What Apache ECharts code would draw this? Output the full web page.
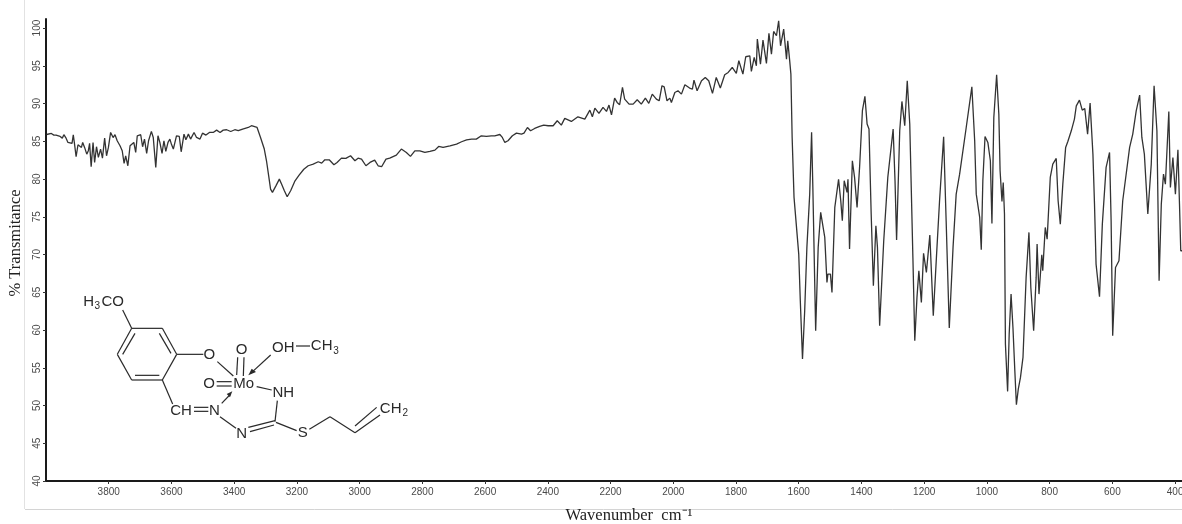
<!DOCTYPE html>
<html><head><meta charset="utf-8">
<script src="https://cdn.jsdelivr.net/npm/echarts@6/dist/echarts.min.js"></script>
<style>html,body{margin:0;padding:0;background:#fff}#c{width:1182px;height:524px}</style>
</head><body><div id="c"></div>
<script>
const wavenumberTicks=[3800,3600,3400,3200,3000,2800,2600,2400,2200,2000,1800,1600,1400,1200,1000,800,600,400];
const wavenumbers=[
3998,3992,3983,3975,3968,3955,3948,3943,3937,3930,3924,3917,3913,3909,3904,3898,3893,3887,3883,3877,3870,3865,3861,3856,3850,3845,3839,3833,3826,3820,3813,3807,3801,3794,3786,3780,3773,3764,3757,3751,3746,3739,3732,3726,3720,3714,3709,3698,3692,3686,3679,3673,3664,3658,3650,3643,3637,3630,3624,3618,3611,3605,
3600,3594,3590,3584,3575,3569,3560,3554,3546,3539,3528,3520,3509,3501,3490,3479,3467,3456,3445,3435,3424,3411,3398,3387,3373,3355,3345,3327,3316,3304,3297,3290,3284,3278,3267,3256,3249,3240,3231,3220,3206,3193,
3178,3164,3148,3132,3121,3111,3097,3082,3072,3058,3044,3029,3015,3005,2994,2980,2967,2952,2941,2930,2916,2904,2883,2867,2851,2838,2824,2808,2792,2776,2760,2748,2734,2712,2691,2675,2659,2643,2628,2612,2596,2580,2569,2553,2545,2537,2527,2513,2500,2484,2476,2465,2455,2442,2426,2413,2399,2383,2370,2357,
2346,2325,2304,2282,2266,2258,2250,2237,2224,2213,2205,2197,2187,2179,2171,2162,2155,2141,2128,2115,2102,2089,2078,2067,2054,2045,2036,2029,2020,2011,2006,1995,1985,1974,1963,1948,1939,1934,1924,1910,1898,1887,1875,1863,1850,1836,1825,1812,1799,1791,1778,1769,1756,1751,1742,1735,1732,1722,1714,1703,1695,1687,1680,1671,1664,1658,1648,1639,1635,1629,1625,
1621,1615,1600,1595,1588,1581,1574,1565,1559,1555,1546,1538,1530,1525,1517,1510,1507,1499,1494,1485,1473,1466,1461,1455,1446,1443,1438,1429,1422,1414,1406,1397,1389,1382,1376,1369,1362,1354,1349,1342,1329,1316,1299,1293,1288,1278,1271,1262,1254,1246,1236,1230,1223,1217,1209,1202,1193,1182,1171,1161,1151,1138,1130,1120,1108,1098,
1087,1066,1048,1039,1034,1023,1018,1013,1006,997,989,984,978,969,962,958,952,948,944,941,934,929,923,917,911,906,900,893,885,875,866,860,851,843,840,834,825,822,814,808,798,790,779,773,766,758,749,742,731,721,715,705,696,688,679,671,662,657,652,641,632,620,609,604,599,590,579,567,545,535,524,513,506,498,487,476,467,458,451,444,437,431,426,420,415,407,399,391,386,382,378];
const transmittance=[
85.9,85.95,86.04,85.82,85.82,85.65,85.42,85.87,85.5,84.85,84.94,84.72,85.87,84.63,82.95,84.54,84.8,84.19,84.85,84.19,83.3,83.75,84.72,81.63,84.85,82.2,84.28,82.86,83.97,82.77,85.42,83.08,84.19,86.17,85.5,85.87,85.07,84.41,83.75,82.07,83.08,81.76,84.41,84.54,84.85,83.53,85.73,85.87,84.28,85.29,83.39,85.07,86.31,85.51,81.54,85.73,84.85,83.39,85.07,83.66,84.85,85.29,
84.6,83.97,83.74,85.73,85.64,83.61,85.95,85.2,85.95,85.29,86.17,85.51,85.29,86.08,85.82,86.17,86.17,86.48,86.17,86.48,86.53,86.3,86.53,86.4,86.62,86.83,87.06,86.83,85.51,83.97,82.42,80.43,78.67,78.23,79.1,79.99,79.33,78.45,77.65,78.45,79.77,80.52,
81.3,81.76,81.98,82.29,82.11,82.55,82.55,81.89,82.2,82.77,82.73,83.08,82.42,82.77,82.64,81.76,82.2,82.51,81.76,81.63,82.64,82.77,83.17,83.97,83.52,83.0,83.74,83.74,83.52,83.66,83.83,84.32,84.19,84.4,84.63,84.94,85.2,85.29,85.29,85.73,85.64,85.73,85.73,85.9,85.51,84.85,85.07,85.73,86.08,85.95,86.08,86.83,86.39,86.7,86.97,87.14,87.06,87.06,87.72,87.14,
88.03,87.63,88.25,87.94,89.13,88.25,89.4,88.69,89.49,88.96,89.8,88.51,90.72,90.15,89.84,92.14,90.59,89.93,89.93,90.5,89.93,90.72,90.02,91.25,90.59,90.37,92.36,92.22,90.37,90.72,90.15,91.47,91.69,91.25,92.49,92.05,91.91,93.11,91.69,93.02,93.46,93.02,91.34,93.46,92.05,93.81,94.12,94.78,93.99,95.67,93.9,96.2,96.33,94.25,96.11,95.0,98.54,95.23,98.4,95.31,99.3,96.55,99.55,98.98,100.97,97.65,99.86,95.89,98.32,95.75,93.9,
85.5,77.57,70.06,63.88,56.15,62.56,70.95,78.0,86.18,78.9,59.9,70.95,75.58,75.58,72.27,66.31,67.4,67.4,64.98,76.24,79.96,77.13,74.48,79.77,78.23,79.96,70.72,82.42,80.22,76.24,81.54,89.05,90.95,87.28,86.62,75.36,65.87,73.81,70.95,60.57,71.83,80.22,86.62,79.77,71.92,86.4,90.28,87.06,93.02,87.28,69.6,58.58,64.32,67.85,63.66,70.15,67.63,72.58,61.89,69.62,77.13,85.6,74.48,60.26,70.95,78.0,
80.65,86.83,92.22,85.07,78.0,74.91,70.63,79.77,85.64,84.85,82.42,74.12,88.16,93.81,88.6,81.09,77.03,79.55,75.36,58.14,51.87,59.46,64.76,60.34,54.6,50.1,52.18,53.72,56.37,66.97,72.93,65.64,59.9,66.97,71.38,64.76,69.97,67.85,73.59,72.04,80.21,81.98,82.73,77.12,74.03,79.33,84.19,84.98,86.39,87.94,89.7,90.45,89.13,89.35,85.95,90.06,83.3,76.68,68.73,64.41,74.03,81.54,83.52,74.47,59.24,68.29,69.17,77.12,84.19,85.95,89.04,91.12,85.51,83.3,75.36,81.98,92.35,86.39,66.52,76.68,80.65,79.33,79.55,88.95,78.89,82.86,78.0,83.88,76.68,70.5,70.5];

const labelColor='#4a4a4a', traceColor='#333333', molColor='#2a2a2a';
const mx=z=>z/3, my=z=>270+z/3;
const bonds=[
[395,175,487,175],[487,175,530,253],[530,253,487,330],[487,330,395,330],[395,330,352,253],[352,253,395,175],
[405,190,368,253],[478,190,513,250],[405,316,478,316],
[368,120,395,175],[530,253,610,253],[652,275,700,318],[487,330,518,402],
[582,412,625,412],[582,424,625,424],[660,440,708,475],
[745,472,825,452],[750,485,822,465],[825,455,832,392],[770,350,815,360],[828,457,890,482],
[928,478,990,440],[990,440,1065,488],[1065,488,1140,435],[1065,468,1130,412],
[650,335,695,335],[650,348,695,348],[713,262,710,315],[732,262,730,318],[888,228,930,228],
[665,400,692,372],[812,255,752,310]];
const arrows=[[[697,364],[680,372],[690,382]],[[745,316],[755,296],[768,306]]];
const atoms=[['H',266,97],['3',292,110,1],['CO',338,97],['O',628,255],['O',725,240],['O',627,343],['Mo',731,342],['OH',850,233],['CH',543,424],['3',1008,245,1],['CH',965,229],['N',643,424],['N',725,492],['NH',850,368],['S',908,490],['CH',1172,418],['2',1216,431,1]];

const graphic=[
 {type:'line',silent:true,shape:{x1:24.5,y1:0,x2:24.5,y2:509},style:{stroke:'#e2e2e2',lineWidth:1}},
 {type:'line',silent:true,shape:{x1:25,y1:509.5,x2:1182,y2:509.5},style:{stroke:'#d4d4d4',lineWidth:1}}
];
bonds.forEach(b=>graphic.push({type:'line',silent:true,shape:{x1:mx(b[0]),y1:my(b[1]),x2:mx(b[2]),y2:my(b[3])},style:{stroke:molColor,lineWidth:1.2}}));
arrows.forEach(a=>graphic.push({type:'polygon',silent:true,shape:{points:a.map(p=>[mx(p[0]),my(p[1])])},style:{fill:molColor}}));
atoms.forEach(a=>graphic.push({type:'text',silent:true,x:mx(a[1]),y:my(a[2]),style:{text:a[0],fill:molColor,font:(a[3]?'10px':'15px')+' "Liberation Sans"',align:'center',verticalAlign:'middle'}}));

const chart=echarts.init(document.getElementById('c'),null,{renderer:'canvas'});
chart.setOption({
 animation:false,
 backgroundColor:'#fff',
 grid:{left:46,width:1136,top:19,height:462,containLabel:false,outerBoundsMode:'none'},
 xAxis:{type:'value',inverse:true,min:378,max:4000,
  name:'Wavenumber  cm⁻¹',nameLocation:'middle',nameGap:26,
  nameTextStyle:{fontFamily:'Liberation Serif',fontSize:16.5,color:'#222',padding:[0,0,0,30]},
  axisLine:{show:true,lineStyle:{color:'#1a1a1a',width:2}},
  axisTick:{show:true,length:3,lineStyle:{color:'#333',width:1},customValues:wavenumberTicks},
  axisLabel:{color:labelColor,fontFamily:'Liberation Sans',fontSize:10,margin:6,customValues:wavenumberTicks,formatter:v=>String(v),hideOverlap:false},
  splitLine:{show:false}},
 yAxis:{type:'value',min:40,max:101.2,interval:5,
  name:'% Transmitance',nameLocation:'middle',nameGap:22,nameMoveOverlap:false,
  nameTextStyle:{fontFamily:'Liberation Serif',fontSize:16.5,color:'#222',padding:[0,0,0,14]},
  axisLine:{show:true,lineStyle:{color:'#1a1a1a',width:2}},
  axisTick:{show:true,length:3,lineStyle:{color:'#333',width:1}},
  axisLabel:{color:labelColor,fontFamily:'Liberation Sans',fontSize:10,rotate:90,margin:4,showMaxLabel:false},
  splitLine:{show:false}},
 series:[{type:'line',data:wavenumbers.map((w,i)=>[w,transmittance[i]]),showSymbol:false,smooth:false,clip:true,
  lineStyle:{color:traceColor,width:1.3},silent:true}],
 graphic:graphic
});
</script></body></html>
